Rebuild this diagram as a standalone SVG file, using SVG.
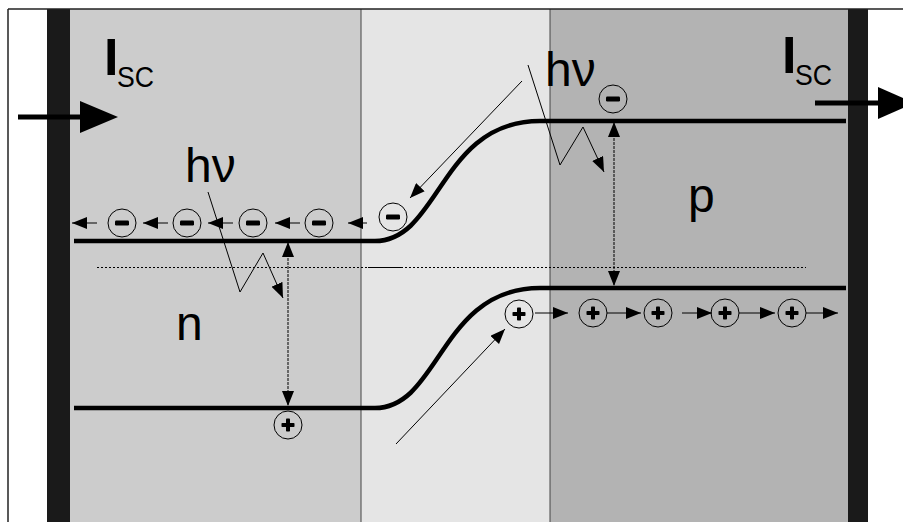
<svg xmlns="http://www.w3.org/2000/svg" width="903" height="522" viewBox="0 0 903 522">
  <style>
    .lbl { font-family: "Liberation Sans", Arial, sans-serif; fill: #000; }
    .band { fill: none; stroke: #000; stroke-width: 4.5; }
    .thin { fill: none; stroke: #000; stroke-width: 1; }
    .gap { fill: none; stroke: #000; stroke-width: 1; stroke-dasharray: 3 1; }
    .ring { fill: none; stroke: #000; stroke-width: 1; }
    .ink { fill: #000; }
  </style>
  <defs>
    <marker id="ah" markerWidth="15" markerHeight="12" refX="15" refY="6" orient="auto-start-reverse" markerUnits="userSpaceOnUse">
      <path d="M0,0 L15,6 L0,12 z" fill="#000"/>
    </marker>
    <g id="electron">
      <circle class="ring" r="14"/>
      <rect class="ink" x="-7" y="-2.5" width="14" height="5" rx="1.2"/>
    </g>
    <g id="hole">
      <circle class="ring" r="14"/>
      <rect class="ink" x="-6.5" y="-2" width="13" height="4" rx="0.8"/>
      <rect class="ink" x="-2" y="-6.5" width="4" height="13" rx="0.8"/>
    </g>
  </defs>

  <rect width="903" height="522" fill="#fff"/>

  <!-- device regions: contacts, n side, junction, p side -->
  <g id="regions">
    <rect x="47" y="9" width="23" height="513" fill="#1a1a1a"/>
    <rect x="70" y="9" width="291" height="513" fill="#cccccc"/>
    <rect x="361" y="9" width="189" height="513" fill="#e5e5e5"/>
    <rect x="550" y="9" width="298" height="513" fill="#b3b3b3"/>
    <rect x="848" y="9" width="20" height="513" fill="#1a1a1a"/>
    <line x1="361" y1="9" x2="361" y2="522" stroke="#444" stroke-width="1"/>
    <line x1="550" y1="9" x2="550" y2="522" stroke="#444" stroke-width="1"/>
    <line x1="8" y1="9" x2="903" y2="9" stroke="#222" stroke-width="1.5"/>
    <line x1="8" y1="9" x2="8" y2="522" stroke="#222" stroke-width="1.5"/>
  </g>

  <!-- energy bands and Fermi level -->
  <g id="bands">
    <path class="band" d="M74,241 H375 C440,241 440,121 540,121 H846"/>
    <path class="band" d="M74,408 H375 C440,408 440,288 540,288 H846"/>
    <line x1="97" y1="267.5" x2="806" y2="267.5" stroke="#000" stroke-width="1" stroke-dasharray="2 2"/>
    <line x1="368" y1="267.5" x2="403" y2="267.5" stroke="#000" stroke-width="1"/>
  </g>

  <g id="connectors">
    <!-- short-circuit current -->
    <line x1="18" y1="117" x2="90" y2="117" stroke="#000" stroke-width="5"/>
    <path d="M80,101 L118,117 L80,133 z" fill="#000"/>
    <line x1="815" y1="103" x2="888" y2="103" stroke="#000" stroke-width="5"/>
    <path d="M878,87 L914,103 L878,119 z" fill="#000"/>

    <!-- band gaps -->
    <line class="gap" x1="288" y1="242" x2="288" y2="406" marker-start="url(#ah)" marker-end="url(#ah)"/>
    <line class="gap" x1="614" y1="122" x2="614" y2="286" marker-start="url(#ah)" marker-end="url(#ah)"/>

    <!-- photons -->
    <polyline class="thin" points="208,192 240,292 263,253 283,298" marker-end="url(#ah)"/>
    <polyline class="thin" points="528,65 560,165 583,127 604,172" marker-end="url(#ah)"/>

    <!-- carriers drifting across the junction -->
    <line class="thin" x1="522" y1="81" x2="410" y2="198" marker-end="url(#ah)"/>
    <line class="thin" x1="396" y1="444" x2="505" y2="329" marker-end="url(#ah)"/>

    <!-- electron flow towards the n contact -->
    <line class="thin" x1="97" y1="223" x2="72" y2="223" marker-end="url(#ah)"/>
    <line class="thin" x1="168" y1="223" x2="143" y2="223" marker-end="url(#ah)"/>
    <line class="thin" x1="233" y1="223" x2="208" y2="223" marker-end="url(#ah)"/>
    <line class="thin" x1="300" y1="223" x2="275" y2="223" marker-end="url(#ah)"/>
    <line class="thin" x1="367" y1="223" x2="348" y2="223" marker-end="url(#ah)"/>

    <!-- hole flow towards the p contact -->
    <line class="thin" x1="535" y1="313" x2="568" y2="313" marker-end="url(#ah)"/>
    <line class="thin" x1="607" y1="313" x2="641" y2="313" marker-end="url(#ah)"/>
    <line class="thin" x1="682" y1="313" x2="712" y2="313" marker-end="url(#ah)"/>
    <line class="thin" x1="739" y1="313" x2="775" y2="313" marker-end="url(#ah)"/>
    <line class="thin" x1="806" y1="313" x2="838" y2="313" marker-end="url(#ah)"/>
  </g>

  <g id="electrons">
    <use href="#electron" x="122" y="223"/>
    <use href="#electron" x="187" y="223"/>
    <use href="#electron" x="253" y="223"/>
    <use href="#electron" x="319" y="223"/>
    <use href="#electron" x="393" y="217"/>
    <use href="#electron" x="613" y="99"/>
  </g>

  <g id="holes">
    <use href="#hole" x="288" y="425"/>
    <use href="#hole" x="519" y="314"/>
    <use href="#hole" x="593" y="313"/>
    <use href="#hole" x="658" y="313"/>
    <use href="#hole" x="725" y="313"/>
    <use href="#hole" x="792" y="313"/>
  </g>

  <g id="labels">
    <text class="lbl" x="104" y="75" font-size="52" font-weight="bold">I</text>
    <text class="lbl" x="117" y="87" font-size="30" textLength="37" lengthAdjust="spacingAndGlyphs">SC</text>
    <text class="lbl" x="782" y="73" font-size="52" font-weight="bold">I</text>
    <text class="lbl" x="795" y="85" font-size="30" textLength="37" lengthAdjust="spacingAndGlyphs">SC</text>
    <text class="lbl" x="185" y="182" font-size="48">hν</text>
    <text class="lbl" x="545" y="86" font-size="48">hν</text>
    <text class="lbl" x="176" y="340" font-size="48">n</text>
    <text class="lbl" x="688" y="212" font-size="48">p</text>
  </g>
</svg>
